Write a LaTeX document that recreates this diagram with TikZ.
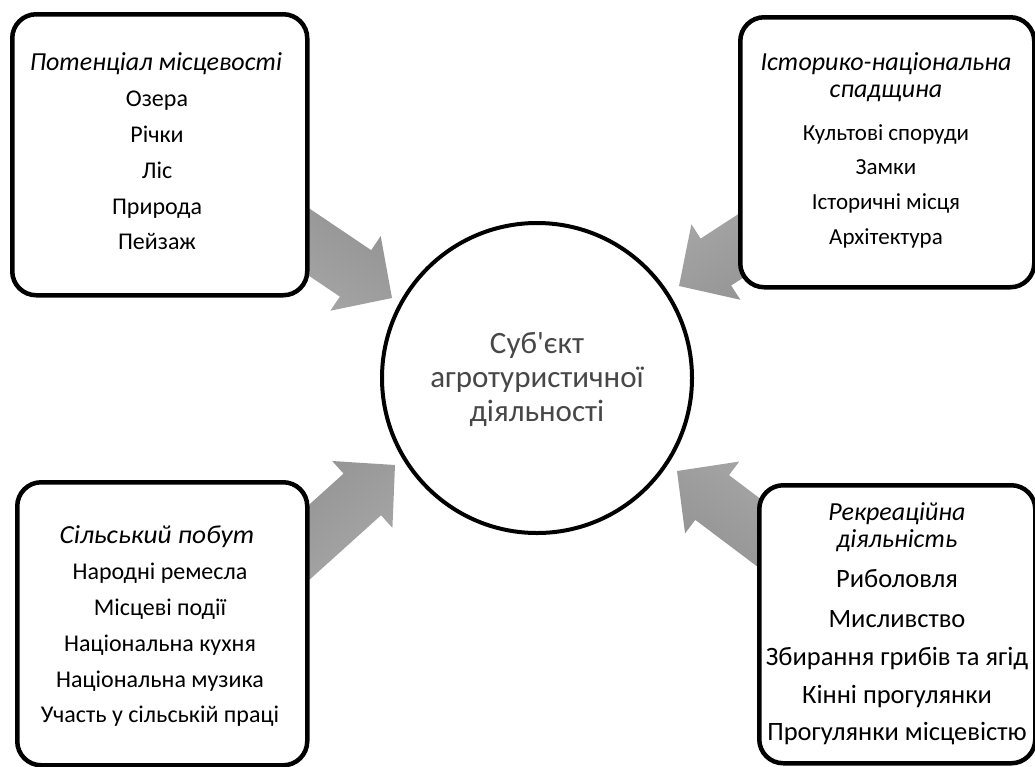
\documentclass[tikz,border=0pt]{standalone}
\usepackage{fontspec}
\usepackage{graphicx}
\setmainfont{Carlito}[Ligatures=TeXOff]
\newcommand{\agrarrow}[2]{%
  \begin{scope}[shift={(#1)}, rotate=#2]
    \shade[arrowfill, shading angle=#2] (0,0) -- (-44,45) -- (-44,28) -- (-160,28) -- (-160,-28) -- (-44,-28) -- (-44,-45) -- cycle;
  \end{scope}}
\newcommand{\fitw}[2]{\resizebox{#1}{\height}{#2}}
\begin{document}
\begin{tikzpicture}[x=1pt,y=-1pt,
  arrowfill/.style={left color=black!43, right color=black!34},
  box/.style={draw=black, line width=4.5pt, rounded corners=24pt, fill=white, inner sep=0, anchor=north west},
  hub/.style={draw=black, line width=4pt, circle, fill=white, inner sep=0, minimum size=310pt},
  ttl/.style={font=\itshape\fontsize{26}{30}\selectfont, anchor=mid, inner sep=0},
  itm/.style={font=\fontsize{24}{28}\selectfont, anchor=mid, inner sep=0},
  itmsmall/.style={font=\fontsize{23}{27}\selectfont, anchor=mid, inner sep=0},
  itmbig/.style={font=\fontsize{26.5}{30}\selectfont, anchor=mid, inner sep=0},
  hubtext/.style={font=\fontsize{31}{36}\selectfont, text=black!72, anchor=mid, inner sep=0}]
\useasboundingbox (0,0) rectangle (1035,766);
% arrow tips
\coordinate (tipTL) at (392,298);
\coordinate (tipTR) at (679,286);
\coordinate (tipBL) at (395,465);
\coordinate (tipBR) at (677,471);
\agrarrow{tipTL}{-34}
\agrarrow{tipTR}{213}
\agrarrow{tipBL}{42}
\agrarrow{tipBR}{143}
% boxes
\node[box, minimum width=295pt, minimum height=281pt] (tl) at (10,12) {};
\node[box, minimum width=294pt, minimum height=270pt] (tr) at (738,15) {};
\node[box, minimum width=290pt, minimum height=283pt] (bl) at (15,480) {};
\node[box, minimum width=276pt, minimum height=278pt] (br) at (757,483) {};
% hub
\node[hub] (hubc) at (537,378) {};
\node[hubtext] (h1) at (537,351) {Суб'єкт};
\node[hubtext] (h2) at (537,385) {агротуристичної};
\node[hubtext] (h3) at (537,419) {діяльності};
% top left
\node[ttl] (tl0) at (156,68) {Потенціал місцевості};
\node[itm] (tl1) at (157,104) {Озера};
\node[itm] (tl2) at (157,140) {Річки};
\node[itm] (tl3) at (157,176) {Ліс};
\node[itm] (tl4) at (157,212) {Природа};
\node[itm] (tl5) at (157,247) {Пейзаж};
% top right
\node[ttl] (tr0) at (886,68) {Історико-національна};
\node[ttl] (tr1) at (886,95) {спадщина};
\node[itmsmall] (tr2) at (886,138) {Культові споруди};
\node[itmsmall] (tr3) at (886,172) {Замки};
\node[itmsmall] (tr4) at (886,207) {Історичні місця};
\node[itmsmall] (tr5) at (886,242) {Архітектура};
% bottom left
\node[ttl] (bl0) at (157,541) {\fitw{195pt}{Сільський побут}};
\node[itm] (bl1) at (160,577) {Народні ремесла};
\node[itm] (bl2) at (160,613) {Місцеві події};
\node[itm] (bl3) at (160,649) {Національна кухня};
\node[itm] (bl4) at (160,685) {Національна музика};
\node[itm] (bl5) at (160,720) {Участь у сільській праці};
% bottom right
\node[ttl] (br0) at (897,518) {Рекреаційна};
\node[ttl] (br1) at (897,545) {діяльність};
\node[itmbig] (br2) at (897,585) {Риболовля};
\node[itmbig] (br3) at (897,625) {Мисливство};
\node[itmbig] (br4) at (897,663) {Збирання грибів та ягід};
\node[itmbig] (br5) at (897,701) {Кінні прогулянки};
\node[itmbig] (br6) at (897,738) {Прогулянки місцевістю};
\end{tikzpicture}
\end{document}
